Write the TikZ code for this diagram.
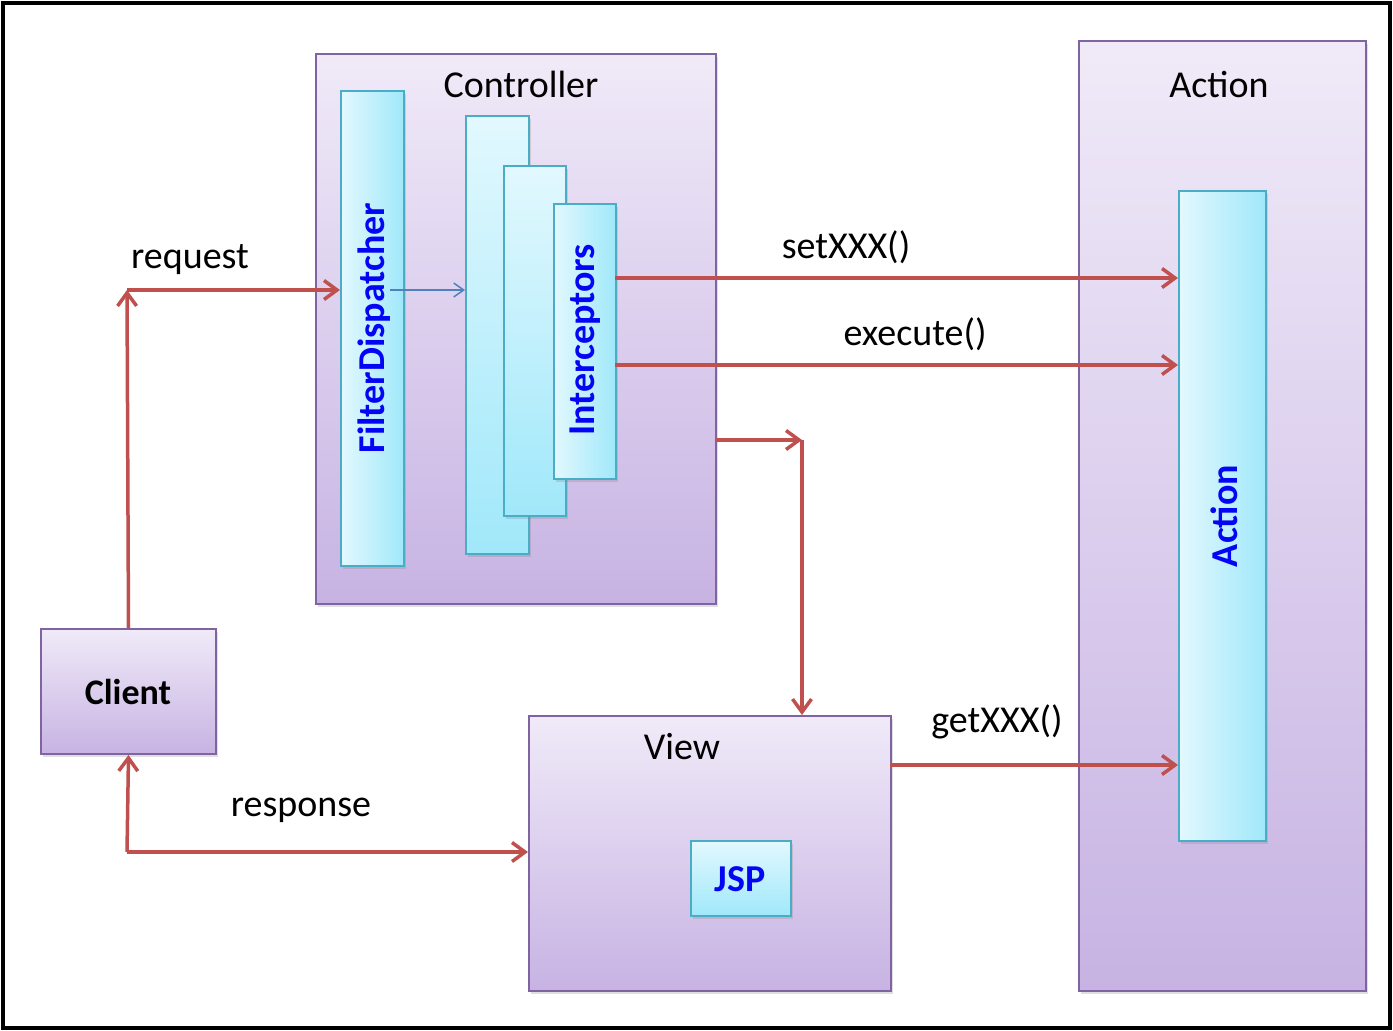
\documentclass[tikz,border=0pt]{standalone}
\usepackage{fontspec}
\setmainfont{Carlito}
\usetikzlibrary{arrows.meta,shadows}
\definecolor{pborder}{HTML}{8064A2}
\definecolor{ptop}{HTML}{F0EAF8}
\definecolor{pbot}{HTML}{C7B3E3}
\definecolor{cborder}{HTML}{4BACC6}
\definecolor{clight}{HTML}{E2F8FE}
\definecolor{cdark}{HTML}{A0E8FA}
\definecolor{arrred}{HTML}{C0504D}
\definecolor{arrblue}{HTML}{4F81BD}
\definecolor{txtblue}{HTML}{0505F5}
\tikzset{
  pbox/.style={draw=pborder, line width=2pt, top color=ptop, bottom color=pbot,
    anchor=north west, inner sep=0pt, drop shadow={opacity=0.25, shadow xshift=2pt, shadow yshift=-3pt}},
  cboxh/.style={draw=cborder, line width=2pt, left color=clight, right color=cdark,
    anchor=north west, inner sep=0pt, drop shadow={opacity=0.25, shadow xshift=2pt, shadow yshift=-3pt}},
  cboxv/.style={draw=cborder, line width=2pt, top color=clight, bottom color=cdark,
    anchor=north west, inner sep=0pt, drop shadow={opacity=0.25, shadow xshift=2pt, shadow yshift=-3pt}},
  title/.style={font=\fontsize{38}{44}\selectfont, text=black, inner sep=0pt},
  btitle/.style={font=\fontsize{38}{44}\selectfont\bfseries, text=txtblue, inner sep=0pt},
  redarr/.style={draw=arrred, line width=3.5pt, -{Straight Barb[length=13pt,width=19pt,line width=3.5pt]}},
  bluearr/.style={draw=arrblue, line width=1.5pt, -{Straight Barb[length=10pt,width=14pt,line width=1.5pt]}},
}
\begin{document}
\begin{tikzpicture}[x=1pt,y=-1pt]
\useasboundingbox (0,0) rectangle (1393,1031);
\draw[line width=4pt, black] (3,3) rectangle (1390,1028);

% Controller
\node[pbox, minimum width=400pt, minimum height=550pt] (ctrl) at (315,53) {};
\node[title] (ctrltitle) at (521,84) {Controller};
\node[cboxh, minimum width=63pt, minimum height=475pt] (fd) at (340,90) {};
\node[btitle, rotate=90] (fdtext) at (374,328) {FilterDispatcher};
\node[cboxv, minimum width=63pt, minimum height=438pt] (ic1) at (465,115) {};
\node[cboxv, minimum width=62pt, minimum height=350pt] (ic2) at (503,165) {};
\node[cboxh, minimum width=62pt, minimum height=275pt] (ic3) at (553,203) {};
\node[btitle, rotate=90] (ictext) at (585,340) {Interceptors};

% Action
\node[pbox, minimum width=287pt, minimum height=950pt] (act) at (1078,40) {};
\node[title] (acttitle) at (1219,84) {Action};

% Client
\node[pbox, minimum width=175pt, minimum height=125pt] (client) at (40,628) {};
\node[title, font=\fontsize{36}{42}\selectfont\bfseries] (clienttext) at (128,692) {Client};

% View
\node[pbox, minimum width=362pt, minimum height=275pt] (view) at (528,715) {};
\node[title] (viewtitle) at (682,747) {View};
\node[cboxv, minimum width=100pt, minimum height=75pt] (jsp) at (690,840) {};
\node[btitle] (jsptext) at (740,879) {JSP};

% connectors
\coordinate (rc) at (127,290);
\draw[redarr] (client.north) -- (rc);
\draw[redarr] (rc) -- (rc -| fd.west);
\node[title] (reqlabel) at (190,260) {request};

\coordinate (b0) at (390,290);
\draw[bluearr] (b0) -- (b0 -| ic1.west);

\coordinate (s0) at (615,278);
\coordinate (e0) at (615,365);
\coordinate (g0) at (890,765);
\coordinate (cv0) at (715,440);
\coordinate (cv1) at (802,440);
\coordinate (rs) at (127,852);

% Action inner box
\node[cboxh, minimum width=87pt, minimum height=650pt] (actin) at (1178,190) {};
\node[btitle, rotate=90] (actintext) at (1224,516) {Action};

\draw[redarr] (s0) -- (s0 -| actin.west);
\node[title] (setlabel) at (846,247) {setXXX()};
\draw[redarr] (e0) -- (e0 -| actin.west);
\node[title] (exelabel) at (915,334) {execute()};
\draw[redarr] (cv0) -- (cv1);
\draw[redarr] (cv1) -- (cv1 |- view.north);
\draw[redarr] (g0) -- (g0 -| actin.west);
\node[title] (getlabel) at (997,722) {getXXX()};
\draw[redarr] (rs) -- (client.south);
\draw[redarr] (rs) -- (rs -| view.west);
\node[title] (reslabel) at (301,810) {response};
\end{tikzpicture}
\end{document}
